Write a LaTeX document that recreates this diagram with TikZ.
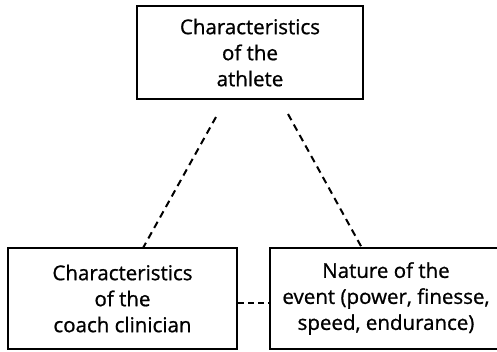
\documentclass[tikz,border=0pt]{standalone}
\usepackage{fontspec}
\setmainfont[UprightFeatures={FakeBold=0.9}]{Open Sans}
\tikzset{
  boxnode/.style={draw=black, line width=2pt, inner sep=0pt, align=center,
    font=\fontsize{20.5}{26}\selectfont},
  dashline/.style={draw=black, line width=2pt, dash pattern=on 7pt off 5pt}
}
\begin{document}
\begin{tikzpicture}[x=1pt,y=-1pt]
\useasboundingbox (0,0) rectangle (497,351);
\node[boxnode, minimum width=226pt, minimum height=93pt] (top) at (250,52.5)
  {Characteristics\\of the\\athlete};
\node[boxnode, minimum width=229pt, minimum height=101pt] (left) at (122.5,298.5)
  {Characteristics\\of the\\coach clinician};
\node[boxnode, minimum width=232pt, minimum height=101pt] (right) at (386,298.5)
  {Nature of the\\event (power, finesse,\\speed, endurance)};
\coordinate (s1) at (216,117);
\coordinate (e1) at (143,248);
\coordinate (s2) at (288,114);
\coordinate (e2) at (362,248);
\coordinate (h) at (0,303);
\draw[dashline] (s1) -- (e1);
\draw[dashline] (s2) -- (e2);
\draw[dashline, dash pattern=on 6pt off 4pt] (left.east |- h) -- (right.west |- h);
\end{tikzpicture}
\end{document}
